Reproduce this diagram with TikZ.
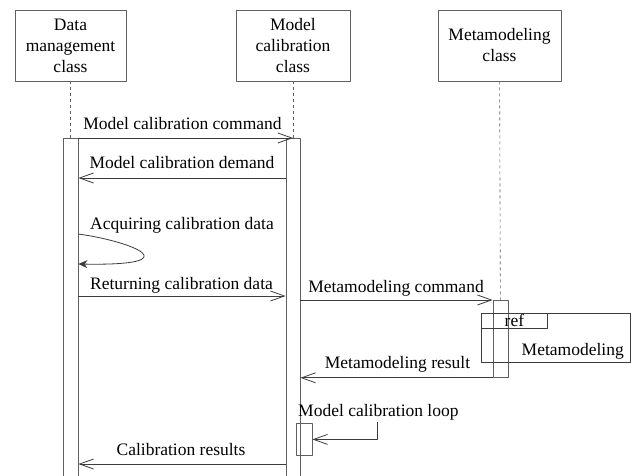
\documentclass[tikz,border=0pt]{standalone}
\usepackage{fontspec}
\setmainfont{Liberation Serif}
\usetikzlibrary{arrows.meta, positioning, calc}
\definecolor{boxgray}{HTML}{606060}
\definecolor{msggray}{HTML}{3c3c3c}

\begin{document}
\begin{tikzpicture}[x=1pt, y=-1pt, line join=round,
    every node/.style={font=\fontsize{17.5}{21}\selectfont},
    classbox/.style={draw=boxgray, line width=0.8pt, align=center,
        minimum height=71pt, inner sep=0pt},
    lifeline/.style={draw=boxgray, dashed, line width=0.6pt},
    actbar/.style={draw=boxgray, line width=0.8pt, minimum width=15pt,
        anchor=north, inner sep=0pt},
    msg/.style={draw=msggray, line width=0.8pt,
        -{Straight Barb[length=14pt, width=10pt]}},
    selfmsg/.style={draw=msggray, line width=0.8pt,
        -{Stealth[length=9pt, width=8pt]}},
    msglabel/.style={anchor=base, inner sep=0pt}]
    \useasboundingbox (0,0) rectangle (634,476);

    % classes
    \node[classbox, minimum width=111pt] (dmbox) at (70.5,45.5) {Data\\management\\class};
    \node[classbox, minimum width=114pt] (mcbox) at (293,45.5) {Model\\calibration\\class};
    \node[classbox, minimum width=123pt] (mmbox) at (499.5,45.5) {Metamodeling\\class};

    % activations
    \node[actbar, minimum height=345pt] (dmbar) at (70.5,138) {};
    \node[actbar, minimum width=14pt, minimum height=345pt] (mcbar) at (293,138) {};
    \node[actbar, minimum height=77pt] (mmbar) at (500.5,300) {};
    \node[actbar, minimum width=16pt, minimum height=32pt] (loopbar) at (304,423) {};

    \draw[lifeline] (dmbox) -- (dmbar);
    \draw[lifeline] (mcbox) -- (mcbar);
    \draw[lifeline] (mmbox) -- (mmbar);

    % ref frame
    \node[draw=msggray, line width=0.8pt, anchor=north west, minimum width=149pt,
        minimum height=49pt, inner sep=0pt] (refframe) at (481,313) {};
    \node[draw=msggray, line width=0.8pt, anchor=north west, minimum width=66pt,
        minimum height=15pt, inner sep=0pt] (reftab) at (refframe.north west) {ref};
    \node[anchor=base east, inner sep=0pt] (refname) at (624,355) {Metamodeling};

    % message levels
    \coordinate (m2) at (0,178);
    \coordinate (s1) at (0,234);
    \coordinate (s2) at (0,264);
    \coordinate (m3) at (0,296);
    \coordinate (m4) at (0,300);
    \coordinate (m6) at (0,464);
    \coordinate (loopin) at (377,422);

    \draw[msg] (dmbar.north east) -- (mcbar.north);
    \draw[msg] (mcbar.west |- m2) -- (dmbar.east |- m2);
    \draw[selfmsg] (dmbar.east |- s1) .. controls (135,242) and (190,266) .. (dmbar.east |- s2);
    \draw[msg] (dmbar.east |- m3) -- (mcbar.west |- m3);
    \draw[msg] (mcbar.east |- m4) -- (mmbar.north west);
    \draw[msg] (mmbar.south west) -- (mcbar.east |- mmbar.south);
    \draw[msg] (loopin) |- (loopbar.east);
    \draw[msg] (mcbar.west |- m6) -- (dmbar.east |- m6);

    \node[msglabel] (l1) at (182.5,130) {Model calibration command};
    \node[msglabel] (l2) at (182,168) {Model calibration demand};
    \node[msglabel] (l3) at (182,229) {Acquiring calibration data};
    \node[msglabel] (l4) at (181.5,289) {Returning calibration data};
    \node[msglabel] (l5) at (396,292) {Metamodeling command};
    \node[msglabel] (l6) at (397.5,368) {Metamodeling result};
    \node[msglabel, anchor=base west] (l7) at (298,416) {Model calibration loop};
    \node[msglabel] (l8) at (181,455) {Calibration results};
\end{tikzpicture}
\end{document}
